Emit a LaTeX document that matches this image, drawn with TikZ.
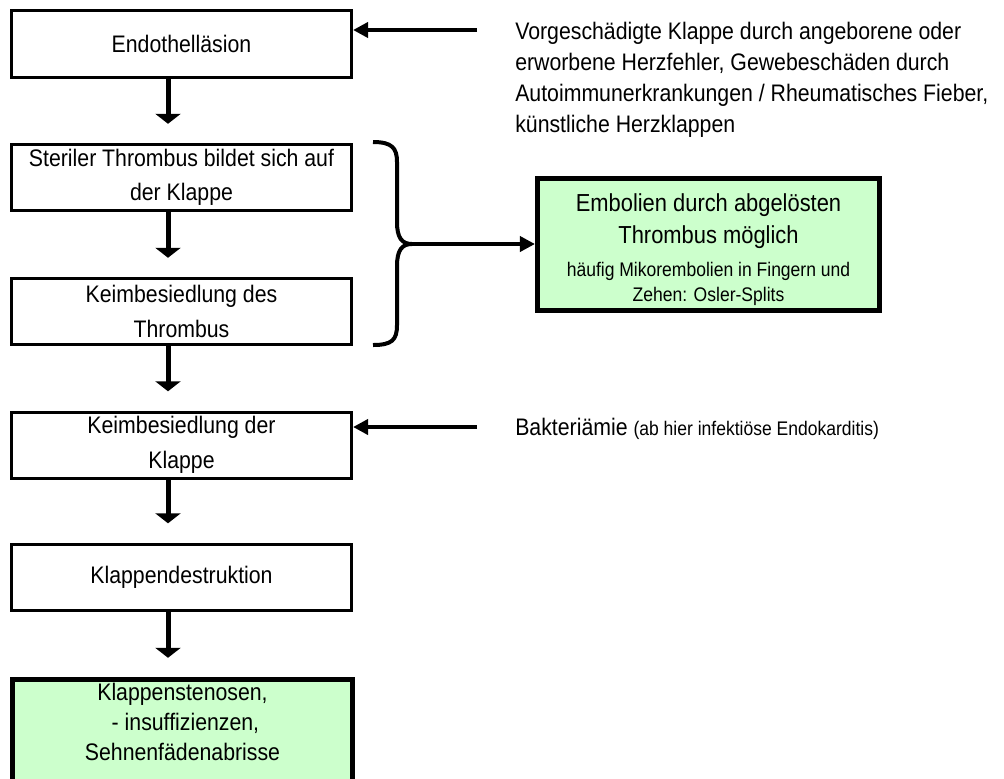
\documentclass[tikz,border=0pt]{standalone}
\usepackage{fontspec}
\setmainfont[FakeStretch=0.89]{Liberation Sans}
\usetikzlibrary{arrows.meta,positioning,calc}
\definecolor{ekgreen}{HTML}{CCFFCC}
\newcommand{\klein}{\fontsize{14}{17}\selectfont}

\begin{document}
\begin{tikzpicture}[
    x=0.025cm, y=-0.025cm,
    stepbox/.style={rectangle, draw, line width=0.075cm, minimum width=8.5cm,
                minimum height=1.65cm, inner sep=0pt, align=center,
                font=\fontsize{17}{24.5}\selectfont},
    greenbox/.style={rectangle, draw, fill=ekgreen, line width=0.125cm,
                inner sep=0pt, align=center},
    downarr/.style={-{Triangle[length=0.25cm, width=0.625cm]}, line width=0.125cm,
                shorten >=0.48cm},
    sidearr/.style={-{Triangle[length=0.375cm, width=0.375cm]}, line width=0.1cm},
    note/.style={align=left, inner sep=0pt, font=\fontsize{17}{22}\selectfont}
  ]
  \useasboundingbox (0,0) rectangle (1004,778);

  % ---- Left chain ----
  \node[stepbox] (b1) at (181.5,44) {Endothelläsion};
  \node[stepbox] (b2) at (181.5,177.5) {Steriler Thrombus bildet sich auf\\der Klappe};
  \node[stepbox] (b3) at (181.5,311.5) {Keimbesiedlung des\\Thrombus};
  \node[stepbox] (b4) at (181.5,445) {Keimbesiedlung der\\Klappe};
  \node[stepbox] (b5) at (181.5,577) {Klappendestruktion};

  % last box runs off the page
  \node[greenbox, anchor=north, minimum width=8.5cm, minimum height=3.5cm]
    (b6) at (182.5,677) {};
  \node[align=center, font=\fontsize{17}{21.3}\selectfont]
    (b6t) at (182.5,722) {Klappenstenosen,\\\ - insuffizienzen,\\Sehnenfädenabrisse};

  % ---- Down arrows ----
  \coordinate (ax) at (168,0);
  \draw[downarr] (b1.south -| ax) -- (b2.north -| ax);
  \draw[downarr] (b2.south -| ax) -- (b3.north -| ax);
  \draw[downarr] (b3.south -| ax) -- (b4.north -| ax);
  \draw[downarr] (b4.south -| ax) -- (b5.north -| ax);
  \draw[downarr] (b5.south -| ax) -- (b6.north -| ax);

  % ---- Causes on the right ----
  \node[note, anchor=north west] (t1) at (515,22)
    {Vorgeschädigte Klappe durch angeborene oder\\
     erworbene Herzfehler, Gewebeschäden durch\\
     Autoimmunerkrankungen / Rheumatisches Fieber,\\
     künstliche Herzklappen};
  \coordinate (s1) at (477,30);
  \draw[sidearr] (s1) -- (s1 -| b1.east);

  \node[note, anchor=base west] (t2) at (515,435.5)
    {Bakteriämie {\klein(ab hier infektiöse Endokarditis)}};
  \coordinate (s2) at (477,427);
  \draw[sidearr] (s2) -- (s2 -| b4.east);

  % ---- Brace and embolism ----
  \draw[line width=0.1cm]
    (373,142) .. controls (392,142) and (397,148) .. (397,162) -- (397,222)
    .. controls (397,238) and (402,244) .. (412,244)
    .. controls (402,244) and (397,250) .. (397,266) -- (397,325)
    .. controls (397,340) and (392,345) .. (373,345);
  \coordinate (bt) at (412,244);

  \node[greenbox, minimum width=8.55cm, minimum height=3.3cm,
        font=\fontsize{17.5}{22.8}\selectfont]
    (emb) at (708.5,244.5)
    {\rule{0pt}{19.5pt}Embolien durch abgelösten\\Thrombus möglich\\[0.7pt]
     {\klein häufig Mikorembolien in Fingern und}\\[-5pt]
     {\klein Zehen: Osler-Splits}};
  \draw[sidearr, line width=0.09cm] (bt) -- (emb.west |- bt);

\end{tikzpicture}
\end{document}
